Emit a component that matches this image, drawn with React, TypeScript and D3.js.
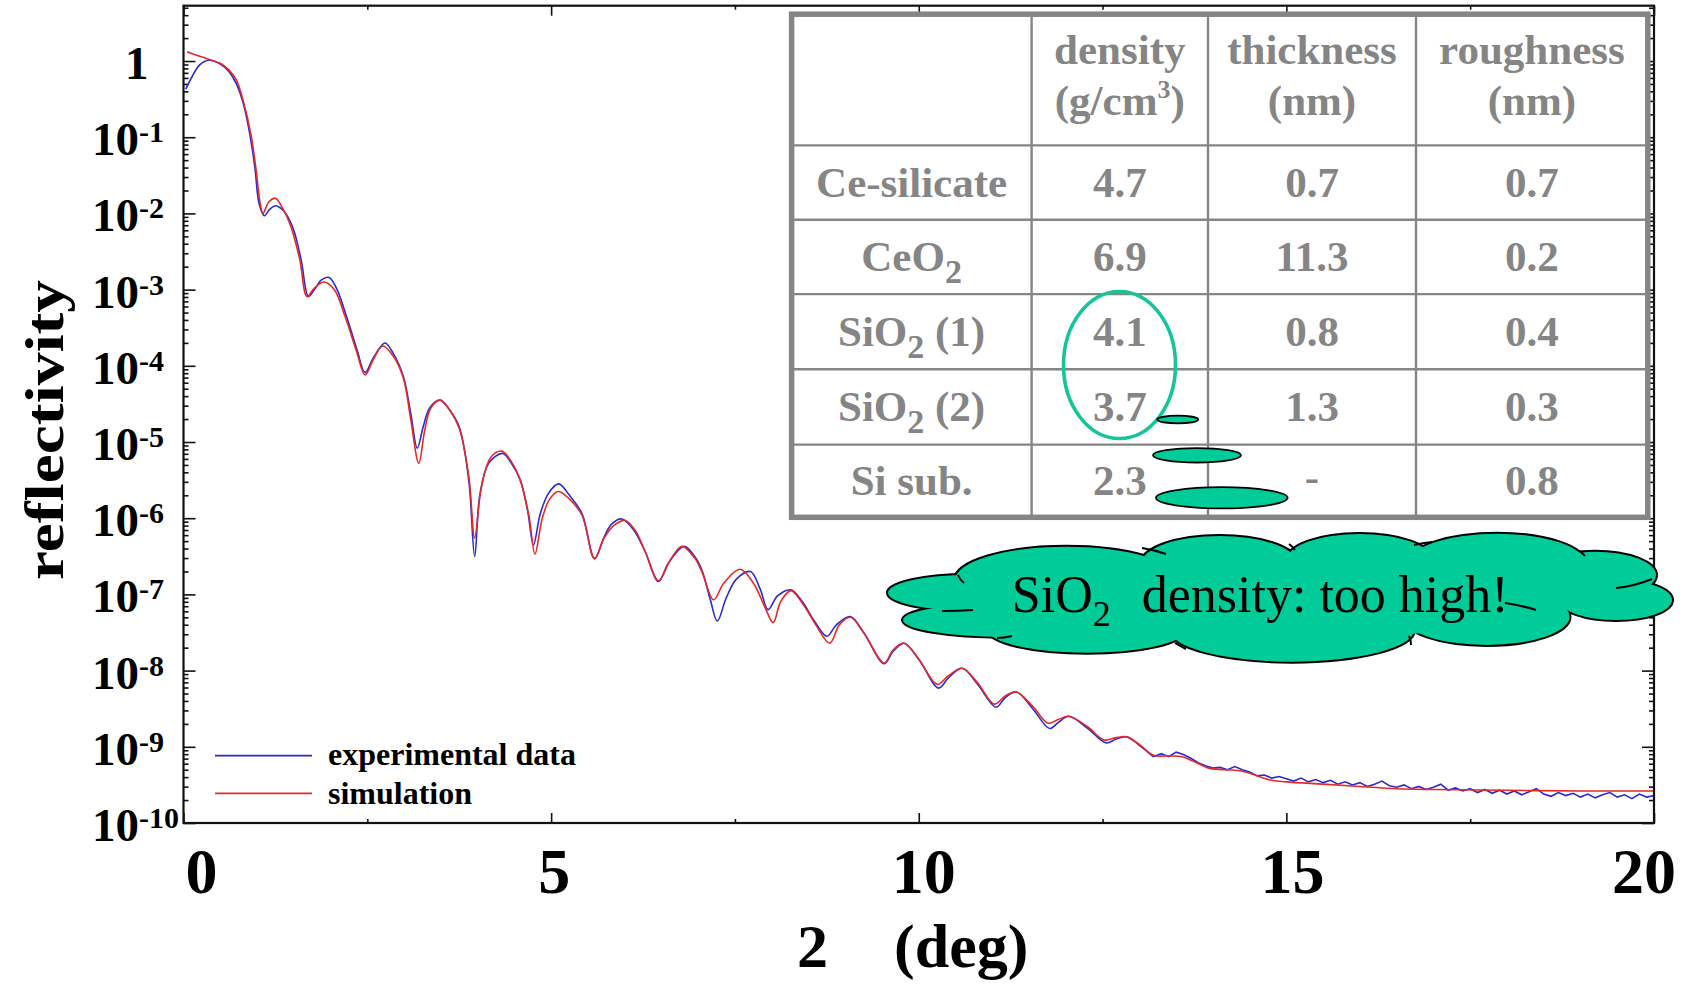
import { useEffect, useRef } from "react";
import * as d3 from "d3";

// measured reflectivity: 2theta (deg) and log10(R)
const expAngle = [
  0.03, 0.12, 0.22, 0.35, 0.5, 0.62, 0.72, 0.82, 0.9, 0.97, 1.03, 1.1, 1.17, 1.25, 1.32, 1.39, 1.5, 1.6, 1.7,
  1.78, 1.88, 1.98, 2.08, 2.22, 2.36, 2.47, 2.58, 2.74, 2.86, 2.99, 3.09, 3.18, 3.26, 3.35, 3.49, 3.62, 3.75,
  3.88, 3.96, 4.03, 4.15, 4.34, 4.46, 4.58, 4.68, 4.76, 4.85, 4.96, 5.1, 5.25, 5.42, 5.59, 5.72, 5.82, 5.96,
  6.12, 6.28, 6.46, 6.6, 6.81, 6.95, 7.05, 7.16, 7.26, 7.38, 7.52, 7.71, 7.84, 7.95, 8.08, 8.26, 8.42, 8.58,
  8.75, 8.88, 9.07, 9.25, 9.53, 9.65, 9.8, 10.0, 10.27, 10.4, 10.59, 10.8, 11.05, 11.18, 11.33, 11.55, 11.78,
  11.9, 12.04, 12.3, 12.55, 12.68, 12.83, 13.0, 13.19,
];
const expLogR = [
  -0.37, -0.2, -0.05, 0.01, -0.04, -0.14, -0.3, -0.58, -0.95, -1.39, -1.88, -2.03, -1.95, -1.9, -1.93, -2.0,
  -2.22, -2.61, -3.09, -3.0, -2.87, -2.84, -2.98, -3.36, -3.79, -4.09, -3.9, -3.7, -3.85, -4.14, -4.62, -5.08,
  -4.8, -4.55, -4.45, -4.58, -4.8, -5.5, -6.5, -5.7, -5.28, -5.15, -5.28, -5.5, -5.9, -6.35, -5.95, -5.68,
  -5.55, -5.7, -5.94, -6.53, -6.25, -6.08, -6.01, -6.15, -6.44, -6.83, -6.58, -6.37, -6.5, -6.68, -7.05,
  -7.35, -7.05, -6.8, -6.7, -6.92, -7.2, -7.02, -6.94, -7.1, -7.35, -7.55, -7.4, -7.29, -7.5, -7.91, -7.75,
  -7.64, -7.85, -8.23, -8.1, -7.97, -8.18, -8.48, -8.35, -8.28, -8.5, -8.76, -8.68, -8.6, -8.76, -8.95, -8.9,
  -8.87, -8.98, -9.13,
];
// noisy background part of the measurement
const expTailAngle = [
  13.19, 13.3, 13.4, 13.5, 13.6, 13.7, 13.8, 13.9, 14.0, 14.1, 14.2, 14.3, 14.4, 14.5, 14.6, 14.7, 14.8, 14.9,
  15.0, 15.1, 15.2, 15.3, 15.4, 15.5, 15.6, 15.7, 15.8, 15.9, 16.0, 16.1, 16.2, 16.3, 16.4, 16.5, 16.6, 16.7,
  16.8, 16.9, 17.0, 17.1, 17.2, 17.3, 17.4, 17.5, 17.6, 17.7, 17.8, 17.9, 18.0, 18.1, 18.2, 18.3, 18.4, 18.5,
  18.6, 18.7, 18.8, 18.9, 19.0, 19.1, 19.2, 19.3, 19.4, 19.5, 19.6, 19.7, 19.8, 19.9, 20.0,
];
const expTailLogR = [
  -9.13, -9.09, -9.13, -9.07, -9.1, -9.15, -9.21, -9.25, -9.28, -9.27, -9.3, -9.26, -9.3, -9.33, -9.38, -9.37,
  -9.41, -9.39, -9.42, -9.45, -9.41, -9.46, -9.43, -9.47, -9.44, -9.49, -9.46, -9.5, -9.47, -9.52, -9.49,
  -9.45, -9.51, -9.53, -9.5, -9.55, -9.52, -9.56, -9.53, -9.49, -9.57, -9.54, -9.58, -9.55, -9.6, -9.56,
  -9.61, -9.57, -9.62, -9.58, -9.63, -9.59, -9.55, -9.62, -9.65, -9.6, -9.64, -9.61, -9.66, -9.62, -9.67,
  -9.63, -9.6, -9.66, -9.63, -9.68, -9.62, -9.66, -9.64,
];
// simulated curve
const simAngle = [
  0.05, 0.2, 0.35, 0.5, 0.62, 0.72, 0.82, 0.92, 0.99, 1.04, 1.08, 1.16, 1.25, 1.33, 1.46, 1.58, 1.68, 1.78,
  1.91, 2.05, 2.2, 2.35, 2.47, 2.58, 2.71, 2.85, 2.99, 3.09, 3.2, 3.28, 3.36, 3.49, 3.62, 3.75, 3.88, 3.96,
  4.05, 4.18, 4.33, 4.46, 4.58, 4.7, 4.78, 4.88, 4.98, 5.1, 5.25, 5.42, 5.59, 5.72, 5.86, 6.01, 6.15, 6.28,
  6.46, 6.62, 6.78, 6.95, 7.05, 7.21, 7.35, 7.57, 7.75, 7.9, 8.02, 8.12, 8.26, 8.42, 8.6, 8.79, 8.92, 9.07,
  9.25, 9.53, 9.65, 9.8, 10.0, 10.25, 10.4, 10.59, 10.8, 11.03, 11.18, 11.33, 11.55, 11.76, 11.9, 12.04, 12.3,
  12.52, 12.68, 12.83, 13.0, 13.19, 13.4, 13.58, 13.8, 13.94, 14.15, 14.4, 14.6, 14.8, 15.0, 15.5, 16.0, 16.5,
  17.0, 18.0, 19.0, 20.0,
];
const simLogR = [
  0.12, 0.07, 0.02, -0.03, -0.12, -0.25, -0.55, -0.98, -1.45, -1.85, -2.0, -1.85, -1.8, -1.9, -2.17, -2.6,
  -3.09, -2.98, -2.9, -3.0, -3.36, -3.8, -4.12, -3.92, -3.74, -3.87, -4.16, -4.7, -5.28, -4.85, -4.56, -4.45,
  -4.58, -4.82, -5.45, -6.26, -5.6, -5.2, -5.12, -5.26, -5.5, -5.98, -6.47, -6.0, -5.75, -5.65, -5.75, -5.96,
  -6.53, -6.26, -6.09, -6.03, -6.17, -6.44, -6.82, -6.55, -6.37, -6.52, -6.7, -7.07, -6.85, -6.67, -6.85,
  -7.15, -7.37, -7.1, -6.95, -7.12, -7.4, -7.64, -7.4, -7.3, -7.5, -7.9, -7.73, -7.64, -7.85, -8.18, -8.07,
  -7.97, -8.16, -8.44, -8.33, -8.28, -8.47, -8.69, -8.64, -8.6, -8.74, -8.91, -8.88, -8.87, -8.97, -9.11,
  -9.12, -9.13, -9.22, -9.28, -9.3, -9.32, -9.38, -9.44, -9.46, -9.49, -9.52, -9.55, -9.56, -9.57, -9.58,
  -9.58,
];

const xTicks = [0, 5, 10, 15, 20];
const xMinorTicks = [2.5, 7.5, 12.5, 17.5];
const yTickExps = [0, -1, -2, -3, -4, -5, -6, -7, -8, -9, -10];

// fit results table
const tableHeaders = [
  ["", ""],
  ["density", "(g/cm|3|)"],
  ["thickness", "(nm)"],
  ["roughness", "(nm)"],
];
const layerNames = ["Ce-silicate", "CeO|2", "SiO|2| (1)", "SiO|2| (2)", "Si sub."];
const densities = ["4.7", "6.9", "4.1", "3.7", "2.3"];
const thicknesses = ["0.7", "11.3", "0.8", "1.3", "-"];
const roughnesses = ["0.7", "0.2", "0.4", "0.3", "0.8"];

const SERIF = "'Liberation Serif', 'Times New Roman', serif";
const TEAL = "#00CC99";
const GRAY = "#858585";

function ReflectivityChart() {
  const svgRef = useRef(null);

  useEffect(() => {
    const svg = d3.select(svgRef.current);
    svg.selectAll("*").remove();

    const left = 183.5, right = 1654, top = 5.7, bottom = 823;
    const x = d3.scaleLinear().domain([0, 20]).range([left, right]);
    const y = d3.scaleLog().domain([1e-10, Math.pow(10, 0.726)]).range([bottom, top]);

    svg.append("rect").attr("width", 1693).attr("height", 984).attr("fill", "white");

    // ticks (inward) on all four sides
    const minorY: number[] = [];
    for (let e = -10; e <= 0; e++) {
      for (let k = 2; k <= 9; k++) {
        const v = k * Math.pow(10, e);
        if (v < y.domain()[1]) minorY.push(v);
      }
    }
    const majorY = yTickExps.map((e) => Math.pow(10, e));

    const tickGroup = (axis, tx, ty) => {
      const g = svg.append("g").attr("transform", `translate(${tx},${ty})`).call(axis);
      g.select(".domain").remove();
      g.selectAll("line").attr("stroke", "#111").attr("stroke-width", 1.6);
    };
    const noLabel = () => "";
    tickGroup(d3.axisBottom(x).tickValues(xTicks).tickSizeInner(-10).tickSizeOuter(0).tickFormat(noLabel), 0, bottom);
    tickGroup(d3.axisBottom(x).tickValues(xMinorTicks).tickSizeInner(-4).tickSizeOuter(0).tickFormat(noLabel), 0, bottom);
    tickGroup(d3.axisTop(x).tickValues(xTicks).tickSizeInner(-10).tickSizeOuter(0).tickFormat(noLabel), 0, top);
    tickGroup(d3.axisTop(x).tickValues(xMinorTicks).tickSizeInner(-4).tickSizeOuter(0).tickFormat(noLabel), 0, top);
    tickGroup(d3.axisLeft(y).tickValues(majorY).tickSizeInner(-12).tickSizeOuter(0).tickFormat(noLabel), left, 0);
    tickGroup(d3.axisLeft(y).tickValues(minorY).tickSizeInner(-5).tickSizeOuter(0).tickFormat(noLabel), left, 0);
    tickGroup(d3.axisRight(y).tickValues(majorY).tickSizeInner(-12).tickSizeOuter(0).tickFormat(noLabel), right, 0);
    tickGroup(d3.axisRight(y).tickValues(minorY).tickSizeInner(-5).tickSizeOuter(0).tickFormat(noLabel), right, 0);

    // curves
    const line = d3
      .line()
      .x((d) => x(d[0]))
      .y((d) => y(Math.pow(10, d[1])))
      .curve(d3.curveCatmullRom.alpha(0.5));
    const rough = d3
      .line()
      .x((d) => x(d[0]))
      .y((d) => y(Math.pow(10, d[1])));

    const expPts = expAngle.map((a, i) => [a, expLogR[i]]);
    const expTail = expTailAngle.map((a, i) => [a, expTailLogR[i]]);
    const simPts = simAngle.map((a, i) => [a, simLogR[i]]);

    const curves = svg.append("g").attr("fill", "none").attr("stroke-width", 1.6);
    curves.append("path").attr("d", line(expPts)).attr("stroke", "#2a2ad0");
    curves.append("path").attr("d", rough(expTail)).attr("stroke", "#2a2ad0");
    curves.append("path").attr("d", line(simPts)).attr("stroke", "#e82828");

    // frame
    svg
      .append("rect")
      .attr("x", left)
      .attr("y", top)
      .attr("width", right - left)
      .attr("height", bottom - top)
      .attr("fill", "none")
      .attr("stroke", "#111")
      .attr("stroke-width", 2.2);

    // x tick labels
    const xShift = [18, 3, 5, 6, -10];
    svg
      .append("g")
      .attr("font-family", SERIF)
      .attr("font-weight", "bold")
      .attr("font-size", 64)
      .attr("text-anchor", "middle")
      .selectAll("text")
      .data(xTicks)
      .join("text")
      .attr("x", (d, i) => x(d) + xShift[i])
      .attr("y", 893)
      .text((d) => String(d));

    // y tick labels
    const yl = svg.append("g").attr("font-family", SERIF).attr("font-weight", "bold");
    yTickExps.forEach((e) => {
      const base = y(Math.pow(10, e)) + 18;
      if (e === 0) {
        yl.append("text").attr("x", 125).attr("y", base).attr("font-size", 47).text("1");
        return;
      }
      const t = yl.append("text").attr("x", 92).attr("y", base).attr("font-size", 47);
      t.append("tspan").text("10");
      t.append("tspan").attr("dy", -13).attr("font-size", 30).text(`${e}`);
    });

    // axis titles
    svg
      .append("text")
      .attr("transform", "translate(63,430) rotate(-90)")
      .attr("text-anchor", "middle")
      .attr("font-family", SERIF)
      .attr("font-weight", "bold")
      .attr("font-size", 55)
      .attr("textLength", 300)
      .attr("lengthAdjust", "spacingAndGlyphs")
      .text("reflectivity");
    const xt = svg
      .append("text")
      .attr("y", 967)
      .attr("font-family", SERIF)
      .attr("font-weight", "bold")
      .attr("font-size", 62);
    xt.append("tspan").attr("x", 797).text("2");
    xt.append("tspan").attr("x", 894).text("(deg)");

    // legend
    const legend = svg.append("g").attr("font-family", SERIF).attr("font-weight", "bold").attr("font-size", 32);
    [
      { label: "experimental data", color: "#2a2ad0", ly: 755.7, ty: 765 },
      { label: "simulation", color: "#e82828", ly: 793.3, ty: 804 },
    ].forEach((d) => {
      legend.append("line").attr("x1", 215).attr("x2", 312).attr("y1", d.ly).attr("y2", d.ly)
        .attr("stroke", d.color).attr("stroke-width", 1.8);
      legend.append("text").attr("x", 328).attr("y", d.ty).text(d.label);
    });

    // table of fit parameters
    const colEdges = [791.6, 1031.6, 1208, 1416, 1647.8];
    const rowEdges = [14.2, 145.4, 219.7, 294.1, 369.2, 444.6, 517.3];
    const tbl = svg.append("g");
    tbl.append("rect")
      .attr("x", colEdges[0]).attr("y", rowEdges[0])
      .attr("width", colEdges[4] - colEdges[0]).attr("height", rowEdges[6] - rowEdges[0])
      .attr("fill", "white");
    colEdges.slice(1, 4).forEach((cx) => {
      tbl.append("line").attr("x1", cx).attr("x2", cx).attr("y1", rowEdges[0]).attr("y2", rowEdges[6])
        .attr("stroke", GRAY).attr("stroke-width", 2.4);
    });
    rowEdges.slice(1, 6).forEach((ry) => {
      tbl.append("line").attr("x1", colEdges[0]).attr("x2", colEdges[4]).attr("y1", ry).attr("y2", ry)
        .attr("stroke", GRAY).attr("stroke-width", 2.4);
    });
    tbl.append("rect")
      .attr("x", colEdges[0]).attr("y", rowEdges[0])
      .attr("width", colEdges[4] - colEdges[0]).attr("height", rowEdges[6] - rowEdges[0])
      .attr("fill", "none").attr("stroke", GRAY).attr("stroke-width", 5.5);

    const tText = tbl.append("g")
      .attr("font-family", SERIF).attr("font-weight", "bold").attr("font-size", 43)
      .attr("fill", GRAY).attr("text-anchor", "middle");
    const colMid = (c) => (colEdges[c] + colEdges[c + 1]) / 2;

    // "a|sub|b" -> normal / lowered / normal
    const richText = (g, cx, cy, str, shift, subSize) => {
      const t = g.append("text").attr("x", cx).attr("y", cy);
      str.split("|").forEach((part, i) => {
        if (!part) return;
        const sp = t.append("tspan").text(part);
        if (i % 2 === 1) sp.attr("dy", shift).attr("font-size", subSize);
        else if (i > 0) sp.attr("dy", -shift);
      });
    };

    tableHeaders.forEach((lines, c) => {
      if (!lines[0]) return;
      richText(tText, colMid(c), 64, lines[0], 0, 43);
      richText(tText, colMid(c), 115, lines[1], -17, 26);
    });
    layerNames.forEach((name, r) => {
      const base = (rowEdges[r + 1] + rowEdges[r + 2]) / 2 + 14;
      richText(tText, colMid(0), base, name, 12, 34);
      tText.append("text").attr("x", colMid(1)).attr("y", base).text(densities[r]);
      tText.append("text").attr("x", colMid(2)).attr("y", r === 4 ? base - 4 : base).text(thicknesses[r]);
      tText.append("text").attr("x", colMid(3)).attr("y", base).text(roughnesses[r]);
    });

    // highlight ring and thought bubbles
    svg.append("ellipse")
      .attr("cx", 1119.5).attr("cy", 365).attr("rx", 56).attr("ry", 73.5)
      .attr("fill", "none").attr("stroke", "#14C49B").attr("stroke-width", 3.6);
    [
      [1177.8, 419.5, 20.5, 3.9],
      [1197, 455.3, 44, 7.2],
      [1221.8, 497.8, 65.8, 10.6],
    ].forEach(([cx, cy, rx, ry]) => {
      svg.append("ellipse").attr("cx", cx).attr("cy", cy).attr("rx", rx).attr("ry", ry)
        .attr("fill", TEAL).attr("stroke", "#000").attr("stroke-width", 1.8);
    });

    // cloud callout built from overlapping lobes
    const lobes = [
      [969, 592.7, 81, 17.7],
      [1004, 620, 101, 16.7],
      [1087, 630, 98.5, 22.7],
      [1292, 630, 122, 31.7],
      [1486.5, 616.7, 83, 28.3],
      [1616, 600, 56, 20],
      [1595, 575, 61, 23.3],
      [1497, 563, 88, 29.3],
      [1359.5, 560, 72.6, 26],
      [1219.5, 563.3, 77.8, 27.3],
      [1066.6, 580, 111.5, 33.3],
    ];
    const cloud = svg.append("g");
    lobes.forEach(([cx, cy, rx, ry]) => {
      cloud.append("ellipse").attr("cx", cx).attr("cy", cy).attr("rx", rx).attr("ry", ry)
        .attr("fill", TEAL).attr("stroke", "#000").attr("stroke-width", 4);
    });
    lobes.forEach(([cx, cy, rx, ry]) => {
      cloud.append("ellipse").attr("cx", cx).attr("cy", cy).attr("rx", rx).attr("ry", ry).attr("fill", TEAL);
    });
    cloud.append("ellipse").attr("cx", 1280).attr("cy", 598).attr("rx", 300).attr("ry", 40).attr("fill", TEAL);
    const tucks = [
      "M958,575 Q960,580 964,583",
      "M1142,548 Q1155,550 1166,554",
      "M1289,544 Q1292,546 1295,550",
      "M1414,545 Q1422,543 1432,542",
      "M1580,551 Q1582,553 1585,556",
      "M1616,588 Q1635,586 1652,579",
      "M1505,603 Q1520,605 1536,610",
      "M1409,636 Q1411,640 1411,645",
      "M1175,643 Q1180,646 1186,649",
      "M1012,636 Q1004,638 997,638",
      "M973,610 Q958,611 942,611",
    ];
    tucks.forEach((d) => {
      cloud.append("path").attr("d", d).attr("fill", "none").attr("stroke", "#000").attr("stroke-width", 2);
    });

    const ct = svg.append("text")
      .attr("x", 1011.8).attr("y", 611.7)
      .attr("font-family", SERIF).attr("font-size", 52).attr("fill", "#000");
    ct.append("tspan").text("SiO");
    ct.append("tspan").attr("dy", 14).attr("font-size", 36).text("2");
    ct.append("tspan").attr("dy", -14).attr("dx", 31).text("density: too high!");
  }, []);

  return (
    <svg
      ref={svgRef}
      width={1693}
      height={984}
      style={{ position: "absolute", left: 0, top: 0, display: "block" }}
    />
  );
}

export default function App() {
  return <ReflectivityChart />;
}
